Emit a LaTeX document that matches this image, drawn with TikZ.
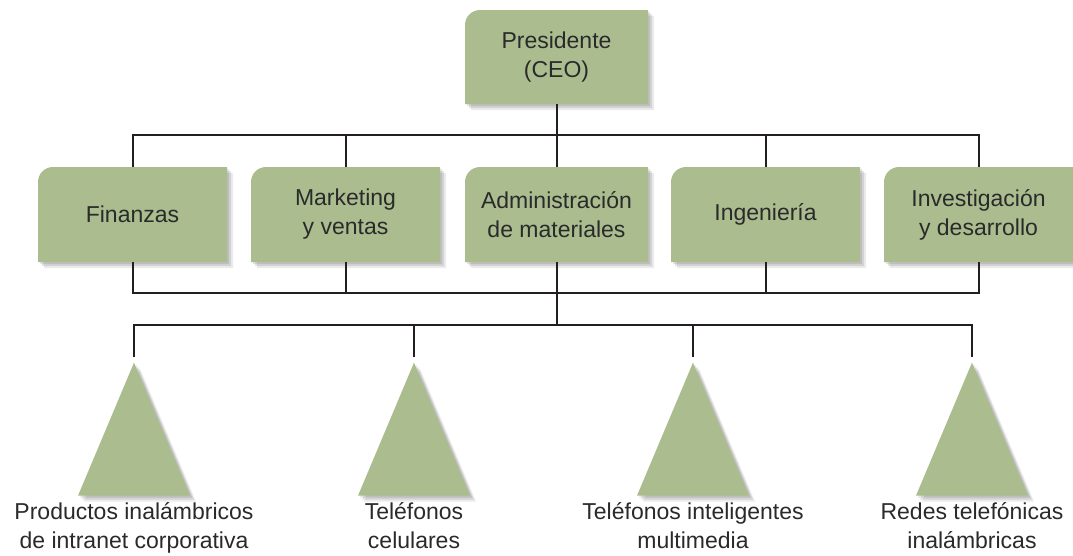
\documentclass[tikz,border=0pt]{standalone}
\usepackage{fontspec}
\setmainfont{Liberation Sans}
\usepackage{xcolor}
\usepackage{tikz}
\usetikzlibrary{positioning,shapes.geometric,backgrounds}
\definecolor{orggreen}{HTML}{ABBD8F}
\definecolor{orgline}{HTML}{231F20}
\definecolor{orgtext}{HTML}{2A2A2A}
\tikzset{
  soft shadow/.style={
    preaction={fill=black,opacity=.10,transform canvas={shift={(2pt,-2pt)}}},
    preaction={fill=black,opacity=.10,transform canvas={shift={(4pt,-4pt)}}},
    preaction={fill=black,opacity=.08,transform canvas={shift={(6pt,-6pt)}}}}
}

\begin{document}
\begin{tikzpicture}[x=1pt,y=1pt,font=\fontsize{23}{29}\selectfont,text=orgtext,line width=2pt]
  \tikzstyle{unit}=[rectangle,minimum width=187pt,minimum height=93pt,inner sep=0pt,align=center]
  \tikzstyle{tri}=[isosceles triangle,shape border rotate=90,isosceles triangle stretches,
                   minimum height=133pt,minimum width=112pt,inner sep=0pt,anchor=apex,
                   fill=orggreen,soft shadow]
  \tikzstyle{prod}=[align=center,inner sep=0pt]
  \tikzstyle{bar}=[draw=orgline,line width=2pt]
  \useasboundingbox (0,0) rectangle (1073,-555);
  % top and functions
  \node[unit,minimum width=181pt,minimum height=92pt] (ceo) at (556.5,-57) {Presidente\\(CEO)};
  \node[unit,minimum width=181pt] (adm) at (556.5,-214.5) {Administración\\de materiales};
  \node[unit,left=25pt of adm] (mkt) {Marketing\\y ventas};
  \node[unit,left=24pt of mkt] (fin) {Finanzas};
  \node[unit,right=23pt of adm] (ing) {Ingeniería};
  \node[unit,right=24pt of ing] (inv) {Investigación\\y desarrollo};
  \begin{scope}[on background layer]
    \foreach \b in {ceo,fin,mkt,adm,ing,inv}
      \fill[orggreen,soft shadow]
        (\b.south west) [rounded corners=15pt] -- (\b.north west) [sharp corners] -- (\b.north east)
        -- (\b.south east) -- cycle;
  \end{scope}
  % product lines
  \node[tri] (p1) at (134,-360) {};
  \node[tri] (p2) at (414,-360) {};
  \node[tri] (p3) at (693,-360) {};
  \node[tri] (p4) at (972,-360) {};
  \node[prod,below=5pt of p1] (l1) {Productos inalámbricos\\de intranet corporativa};
  \node[prod,below=5pt of p2] (l2) {Teléfonos\\celulares};
  \node[prod,below=5pt of p3] (l3) {Teléfonos inteligentes\\multimedia};
  \node[prod,below=5pt of p4] (l4) {Redes telefónicas\\inalámbricas};
  % buses
  \coordinate (top) at (556.5,-135);
  \coordinate (mid) at (556.5,-293);
  \coordinate (low) at (556.5,-325);
  \draw[bar] (ceo.south) -- (top);
  \draw[bar] (fin.north) |- (top) -| (inv.north);
  \draw[bar] (mkt.north) |- (top); \draw[bar] (adm.north) -- (top);
  \draw[bar] (ing.north) |- (top);
  \draw[bar] (fin.south) |- (mid) -| (inv.south);
  \draw[bar] (mkt.south) |- (mid); \draw[bar] (adm.south) -- (mid);
  \draw[bar] (ing.south) |- (mid);
  \draw[bar] (mid) -- (low);
  \draw[bar] ([yshift=3pt]p1.apex) |- (low) -| ([yshift=3pt]p4.apex);
  \draw[bar] ([yshift=3pt]p2.apex) |- (low);
  \draw[bar] ([yshift=3pt]p3.apex) |- (low);
\end{tikzpicture}
\end{document}
